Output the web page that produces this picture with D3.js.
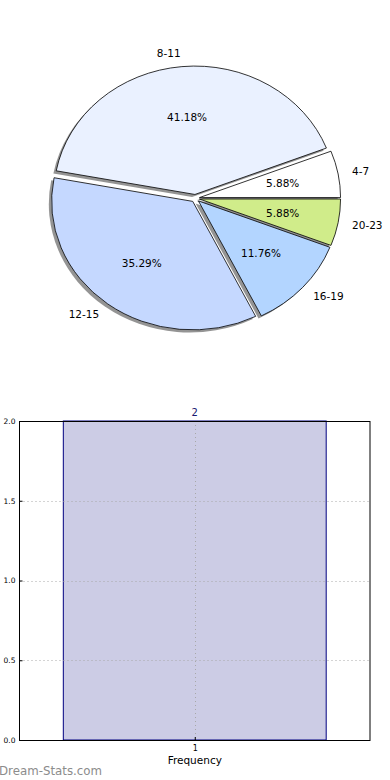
<!DOCTYPE html>
<html>
<head>
<meta charset="utf-8">
<script src="https://cdn.jsdelivr.net/npm/d3@7/dist/d3.min.js"></script>
<style>
  html, body { margin: 0; padding: 0; background: #fff; }
  svg { display: block; font-family: "DejaVu Sans", sans-serif; }
</style>
</head>
<body>
<svg id="chart" width="390" height="780"></svg>
<script>
// ---- data ----
const categories = ["4-7", "8-11", "12-15", "16-19", "20-23"];
const counts = [1, 7, 6, 2, 1];
const sliceColors = ["#ffffff", "#eaf1ff", "#c5d8ff", "#b3d5ff", "#d0ec8a"];

const barCategories = ["1"];
const barValues = [2];
const yTicks = [0.0, 0.5, 1.0, 1.5, 2.0];

// ---- setup ----
const svg = d3.select("#chart");

// ---- pie (matplotlib style, elliptical because axes not equal) ----
const cx = 195.3, cy = 198.3, rx = 141.1, ry = 128.5;
const explode = 0.03;
const total = d3.sum(counts);

const sx = d3.scaleLinear().domain([-1, 1]).range([cx - rx, cx + rx]);
const sy = d3.scaleLinear().domain([-1, 1]).range([cy + ry, cy - ry]);

const pieGen = d3.pie().sort(null).value(d => d)
  .startAngle(0).endAngle(2 * Math.PI);
const arcsData = pieGen(counts).map((a, i) => {
  const t1 = a.startAngle, t2 = a.endAngle;
  const tm = (t1 + t2) / 2;
  return { i, t1, t2, tm, value: a.value };
});

const arcUnit = d3.arc().innerRadius(0).outerRadius(1);
const pieG = svg.append("g");

function wedgeTransform(d, dx, dy) {
  const ox = explode * Math.cos(d.tm) + dx;
  const oy = explode * Math.sin(d.tm) + dy;
  return `translate(${sx(ox)},${sy(oy)}) scale(${rx},${ry})`;
}
function wedgePath(d) {
  return arcUnit({ startAngle: Math.PI / 2 - d.t2, endAngle: Math.PI / 2 - d.t1 });
}

pieG.selectAll("path.shadow").data(arcsData).join("path")
  .attr("class", "shadow")
  .attr("d", wedgePath)
  .attr("transform", d => wedgeTransform(d, -0.02, -0.02))
  .attr("fill", "#4d4d4d")
  .attr("fill-opacity", 0.6)
  .attr("stroke", "none");

pieG.selectAll("path.wedge").data(arcsData).join("path")
  .attr("class", "wedge")
  .attr("d", wedgePath)
  .attr("transform", d => wedgeTransform(d, 0, 0))
  .attr("fill", d => sliceColors[d.i])
  .attr("stroke", "#000")
  .attr("stroke-width", 0.8)
  .attr("vector-effect", "non-scaling-stroke");

pieG.selectAll("text.lbl").data(arcsData).join("text")
  .attr("class", "lbl")
  .attr("x", d => sx((explode + 1.1) * Math.cos(d.tm)))
  .attr("y", d => sy((explode + 1.1) * Math.sin(d.tm)))
  .attr("dy", "0.35em")
  .attr("text-anchor", d => Math.cos(d.tm) > 0 ? "start" : "end")
  .attr("font-size", 10.5)
  .attr("fill", "#000")
  .text(d => categories[d.i]);

pieG.selectAll("text.pct").data(arcsData).join("text")
  .attr("class", "pct")
  .attr("x", d => sx((explode + 0.6) * Math.cos(d.tm)))
  .attr("y", d => sy((explode + 0.6) * Math.sin(d.tm)))
  .attr("dy", "0.35em")
  .attr("text-anchor", "middle")
  .attr("font-size", 10.5)
  .attr("fill", "#000")
  .text(d => (d.value / total * 100).toFixed(2) + "%");

// ---- bar chart ----
const ax = { left: 19.5, right: 370, top: 421, bottom: 740 };
const x = d3.scaleLinear().domain([0.5, 1.5]).range([ax.left, ax.right]);
const y = d3.scaleLinear().domain([0, 2]).range([ax.bottom, ax.top]);
const barWidth = 0.75;

const barG = svg.append("g");

barG.selectAll("rect.bar").data(barValues).join("rect")
  .attr("class", "bar")
  .attr("x", (d, i) => x(+barCategories[i] - barWidth / 2))
  .attr("y", d => y(d))
  .attr("width", (d, i) => x(+barCategories[i] + barWidth / 2) - x(+barCategories[i] - barWidth / 2))
  .attr("height", d => y(0) - y(d))
  .attr("fill", "#cccce5")
  .attr("stroke", "#000080")
  .attr("stroke-width", 1);

barG.selectAll("line.hgrid").data(yTicks).join("line")
  .attr("class", "hgrid")
  .attr("x1", ax.left).attr("x2", ax.right)
  .attr("y1", d => Math.round(y(d)) + 0.5).attr("y2", d => Math.round(y(d)) + 0.5)
  .attr("stroke", "#a8a8a8").attr("stroke-width", 1)
  .attr("stroke-dasharray", "1,3");
barG.selectAll("line.vgrid").data(barCategories).join("line")
  .attr("class", "vgrid")
  .attr("x1", d => Math.round(x(+d)) + 0.5).attr("x2", d => Math.round(x(+d)) + 0.5)
  .attr("y1", ax.top).attr("y2", ax.bottom)
  .attr("stroke", "#a8a8a8").attr("stroke-width", 1)
  .attr("stroke-dasharray", "1,3");

barG.append("rect")
  .attr("x", ax.left).attr("y", ax.top + 0.5)
  .attr("width", ax.right - ax.left).attr("height", ax.bottom - ax.top)
  .attr("fill", "none").attr("stroke", "#000").attr("stroke-width", 1);

const yAxis = d3.axisLeft(y).tickValues(yTicks).tickFormat(d3.format(".1f"))
  .tickSizeInner(-3).tickSizeOuter(0).tickPadding(4);
const yAxG = barG.append("g").attr("transform", `translate(${ax.left},0)`).call(yAxis);
yAxG.select(".domain").remove();
yAxG.selectAll("line").attr("stroke", "#000");
yAxG.selectAll("text").attr("font-size", 7.5).attr("font-family", "DejaVu Sans").attr("fill", "#000");

const xAxis = d3.axisBottom(x).tickValues(barCategories.map(Number)).tickFormat(d3.format("d"))
  .tickSizeInner(-3).tickSizeOuter(0).tickPadding(5);
const xAxG = barG.append("g").attr("transform", `translate(0,${ax.bottom})`).call(xAxis);
xAxG.select(".domain").remove();
xAxG.selectAll("line").attr("stroke", "#000");
xAxG.selectAll("text").attr("font-size", 8).attr("font-family", "DejaVu Sans").attr("fill", "#000");

barG.selectAll("text.val").data(barValues).join("text")
  .attr("class", "val")
  .attr("x", (d, i) => x(+barCategories[i]))
  .attr("y", d => y(d) - 5)
  .attr("text-anchor", "middle")
  .attr("font-size", 10)
  .attr("fill", "#191970")
  .text(d => d);

svg.append("text")
  .attr("x", x(1)).attr("y", 764)
  .attr("text-anchor", "middle")
  .attr("font-size", 10.5)
  .attr("fill", "#000")
  .text("Frequency");

svg.append("text")
  .attr("x", -1).attr("y", 775)
  .attr("font-size", 11.8)
  .attr("fill", "#8c8c8c")
  .text("Dream-Stats.com");
</script>
</body>
</html>
